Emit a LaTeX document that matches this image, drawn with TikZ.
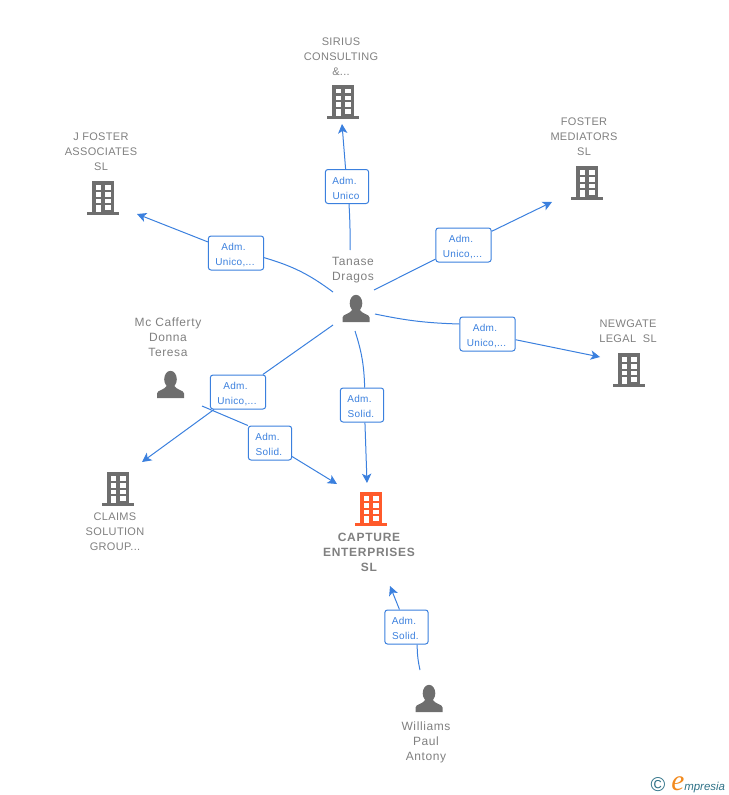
\documentclass[tikz,border=0pt]{standalone}
\usepackage{fontspec}
\setmainfont{Liberation Sans}
\newfontfamily\entfont[LetterSpace=3]{Liberation Sans}
\newfontfamily\perfont[LetterSpace=5]{Liberation Sans}
\newfontfamily\capfont[LetterSpace=6]{Liberation Sans}
\newfontfamily\labfont[LetterSpace=3]{Liberation Sans}
\newfontfamily\logofont{Liberation Serif}
\usetikzlibrary{arrows.meta}
\definecolor{linkblue}{HTML}{3B80DE}
\definecolor{txtgray}{HTML}{808080}
\definecolor{icongray}{HTML}{6E6E6E}
\definecolor{iconorange}{HTML}{FF5A2B}
\definecolor{logoteal}{HTML}{2E7187}
\definecolor{logoorange}{HTML}{F28A1E}
\newcommand{\twolines}[2]{\rule{0pt}{7.8pt}#1\hspace*{3.75pt}\\#2\hspace*{1.5pt}}
\tikzset{
  x=0.75pt,y=-0.75pt,
  pics/building/.style={code={
    \path[pic actions] (-11,0) rectangle (11,31);
    \path[pic actions] (-16,31) rectangle (16,34);
    \foreach \yy in {4,11,17.5}{
      \fill[white] (-7.5,\yy) rectangle (-2.2,\yy+4.5);
      \fill[white] (2.2,\yy) rectangle (7.5,\yy+4.5);
    }
    \fill[white] (-7.5,24.3) rectangle (-2.2,31);
    \fill[white] (2.2,24.3) rectangle (7.5,28.8);
  }},
  pics/person/.style={code={
    \path[pic actions] (0,8.3) ellipse [x radius=6.3,y radius=8.5];
    \path[pic actions] (-13.5,27) -- (-13.5,22.5)
      .. controls (-13.5,19) and (-6,19.5) .. (-3,14) -- (3,14)
      .. controls (6,19.5) and (13.5,19) .. (13.5,22.5) -- (13.5,27) -- cycle;
  }},
  grayicon/.style={fill=icongray},
  orangeicon/.style={fill=iconorange},
  enttext/.style={align=center,inner sep=0,text=txtgray,
    font=\entfont\fontsize{8.25}{11.25}\selectfont},
  pertext/.style={align=center,inner sep=0,text=txtgray,
    font=\perfont\fontsize{9}{11.25}\selectfont},
  captext/.style={align=center,inner sep=0,text=txtgray,
    font=\capfont\bfseries\fontsize{9}{11.25}\selectfont},
  linkbox/.style={draw=linkblue,line width=0.75pt,rounded corners=2pt,fill=white,
    text=linkblue,align=center,inner sep=0,minimum height=25.5pt,
    font=\labfont\fontsize{7.5}{11.25}\selectfont},
  wide/.style={minimum width=41.5pt},
  narrow/.style={minimum width=32.5pt},
  link/.style={draw=linkblue,line width=0.75pt},
  linkarrow/.style={link,-{Stealth[length=7pt,width=7pt,inset=1.8pt]}},
}
\begin{document}
\begin{tikzpicture}
\useasboundingbox (0,0) rectangle (728,795);

% entity icons
\pic[grayicon] at (343,85) {building};
\pic[grayicon] at (103,181) {building};
\pic[grayicon] at (587,166) {building};
\pic[grayicon] at (629,353) {building};
\pic[grayicon] at (118,472) {building};
\pic[orangeicon] at (371,492) {building};
\pic[grayicon] at (356,295) {person};
\pic[grayicon] at (170.5,371) {person};
\pic[grayicon] at (429,685) {person};

% entity texts
\node[enttext] (sirius) at (341,57) {SIRIUS\\CONSULTING\\\&...};
\node[enttext] (jfoster) at (101,152) {J FOSTER\\ASSOCIATES\\SL};
\node[enttext] (fosterm) at (584,137) {FOSTER\\MEDIATORS\\SL};
\node[enttext] (newgate) at (628,331.5) {NEWGATE\\LEGAL\ \ SL};
\node[enttext] (claims) at (115,532) {CLAIMS\\SOLUTION\\GROUP...};
\node[captext] (capture) at (369,552) {CAPTURE\\ENTERPRISES\\SL};
\node[pertext] (tanase) at (353,270) {Tanase\\Dragos};
\node[pertext] (mccafferty) at (168,337) {Mc Cafferty\\Donna\\Teresa};
\node[pertext] (williams) at (426,742) {Williams\\Paul\\Antony};

% connector labels
\node[linkbox,narrow] (l1) at (347,186.5) {\twolines{Adm.}{Unico}};
\node[linkbox,wide] (l2) at (236,253) {\twolines{Adm.}{Unico,...}};
\node[linkbox,wide] (l3) at (463.5,245) {\twolines{Adm.}{Unico,...}};
\node[linkbox,wide] (l4) at (487.5,334) {\twolines{Adm.}{Unico,...}};
\node[linkbox,narrow] (l5) at (362,405) {\twolines{Adm.}{Solid.}};
\node[linkbox,wide] (l6) at (238,392) {\twolines{Adm.}{Unico,...}};
\node[linkbox,narrow] (l7) at (270,443) {\twolines{Adm.}{Solid.}};
\node[linkbox,narrow] (l8) at (406.5,627) {\twolines{Adm.}{Solid.}};

% connector free ends
\coordinate (tn) at (350,250);
\coordinate (tnw) at (333,292);
\coordinate (tne) at (374,290);
\coordinate (te) at (375,314);
\coordinate (ts) at (355,331);
\coordinate (tsw) at (333,325);
\coordinate (mc) at (202,406);
\coordinate (wi) at (420,670);
\coordinate (asirius) at (342,124);
\coordinate (ajfoster) at (137,214);
\coordinate (afoster) at (552,202);
\coordinate (anewgate) at (600,357);
\coordinate (aclaims) at (142,462);
\coordinate (acap1) at (367,483);
\coordinate (acap2) at (337,484);
\coordinate (acap3) at (390,586);

% connectors
\draw[link] (tn) to[bend right=2] ([xshift=1.5pt]l1.south);
\draw[linkarrow] (l1) -- (asirius);
\draw[link] (tnw) to[bend right=10] ([yshift=-3.5pt]l2.east);
\draw[linkarrow] (l2) -- (ajfoster);
\draw[link] (tne) -- (l3);
\draw[linkarrow] (l3) -- (afoster);
\draw[link] (te) to[bend right=5] ([yshift=7.5pt]l4.west);
\draw[linkarrow] (l4) -- (anewgate);
\draw[link] (ts) to[bend left=8] ([xshift=2pt]l5.north);
\draw[linkarrow] ([xshift=2.2pt]l5.south) -- (acap1);
\draw[link] (tsw) -- (l6);
\draw[linkarrow] (l6) -- (aclaims);
\draw[link] (mc) -- (l7.north west);
\draw[linkarrow] (l7) -- (acap2);
\draw[link] (wi) to[bend left=6] ([xshift=8pt]l8.south);
\draw[linkarrow] (l8) -- (acap3);

% logo
\node[inner sep=0,text=logoteal,font=\fontsize{15}{15}\selectfont] (copyr) at (658,785) {©};
\node[inner sep=0,anchor=base west,text=logoorange,font=\logofont\itshape\fontsize{22}{22}\selectfont] (logoe) at (671,790) {e};
\node[inner sep=0,anchor=base west,text=logoteal,font=\itshape\fontsize{8.6}{12}\selectfont] (logot) at (684,790) {mpresia};
\end{tikzpicture}
\end{document}
